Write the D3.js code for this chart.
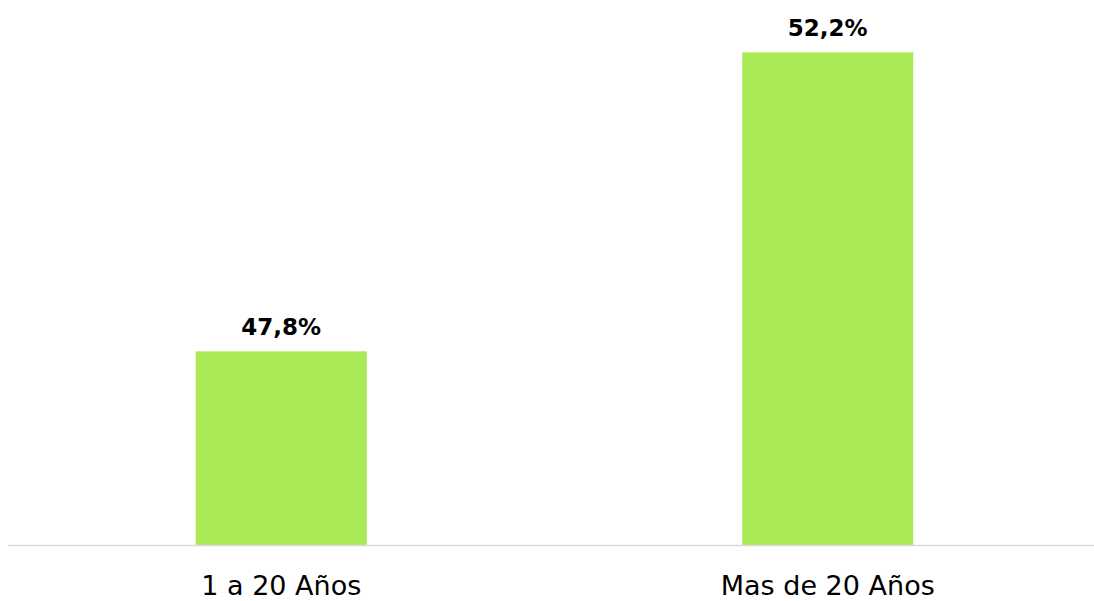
<!DOCTYPE html>
<html lang="es">
<head>
    <meta charset="UTF-8">
    <title>Años</title>
    <script src="https://cdn.jsdelivr.net/npm/d3@7"></script>
</head>
<style>
    body { margin: 0; background: #fff; }
    .barLabel {
        font-family: "DejaVu Sans", sans-serif;
        font-size: 23px;
        font-weight: bold;
        fill: #000;
        text-anchor: middle;
    }
    .catLabel {
        font-family: "DejaVu Sans", sans-serif;
        font-size: 27px;
        fill: #000;
        text-anchor: middle;
    }
</style>
<body>
<svg class="chart"></svg>
<script>
    // datos
    var categories = ['1 a 20 Años', 'Mas de 20 Años']
    var values = [47.8, 52.2]
    var valueLabels = ['47,8%', '52,2%']

    var width = 1094, height = 601
    var svg = d3.select('.chart').attr('width', width).attr('height', height)

    // escalas
    var xScale = d3.scaleBand()
        .domain(categories)
        .range([8, 1101])
        .paddingInner(0.687)
        .paddingOuter(0.3435)

    var yScale = d3.scaleLinear()
        .domain([44.95, 53])
        .range([545, -2])

    // barras
    svg.selectAll('.bar')
        .data(values)
        .enter()
        .append('rect')
        .attr('class', 'bar')
        .attr('x', function (d, i) { return xScale(categories[i]) })
        .attr('y', function (d) { return yScale(d) })
        .attr('width', xScale.bandwidth())
        .attr('height', function (d) { return yScale.range()[0] - yScale(d) })
        .attr('fill', '#a9ea56')

    // eje x
    var xAxis = d3.axisBottom(xScale).tickSize(0).tickPadding(31)
    var gx = svg.append('g')
        .attr('transform', 'translate(0,' + yScale.range()[0] + ')')
        .call(xAxis)
    gx.select('.domain')
        .attr('d', 'M8,0.5H' + width)
        .attr('stroke', '#d9d9d9')
        .attr('stroke-width', 1.5)
    gx.selectAll('text')
        .attr('class', 'catLabel')
        .attr('dy', '0.71em')
    gx.attr('font-size', null).attr('font-family', null)

    // etiquetas de valor
    svg.selectAll('.barLabel')
        .data(values)
        .enter()
        .append('text')
        .attr('class', 'barLabel')
        .attr('x', function (d, i) { return xScale(categories[i]) + xScale.bandwidth() / 2 })
        .attr('y', function (d) { return yScale(d) - 16 })
        .text(function (d, i) { return valueLabels[i] })
</script>
</body>
</html>
